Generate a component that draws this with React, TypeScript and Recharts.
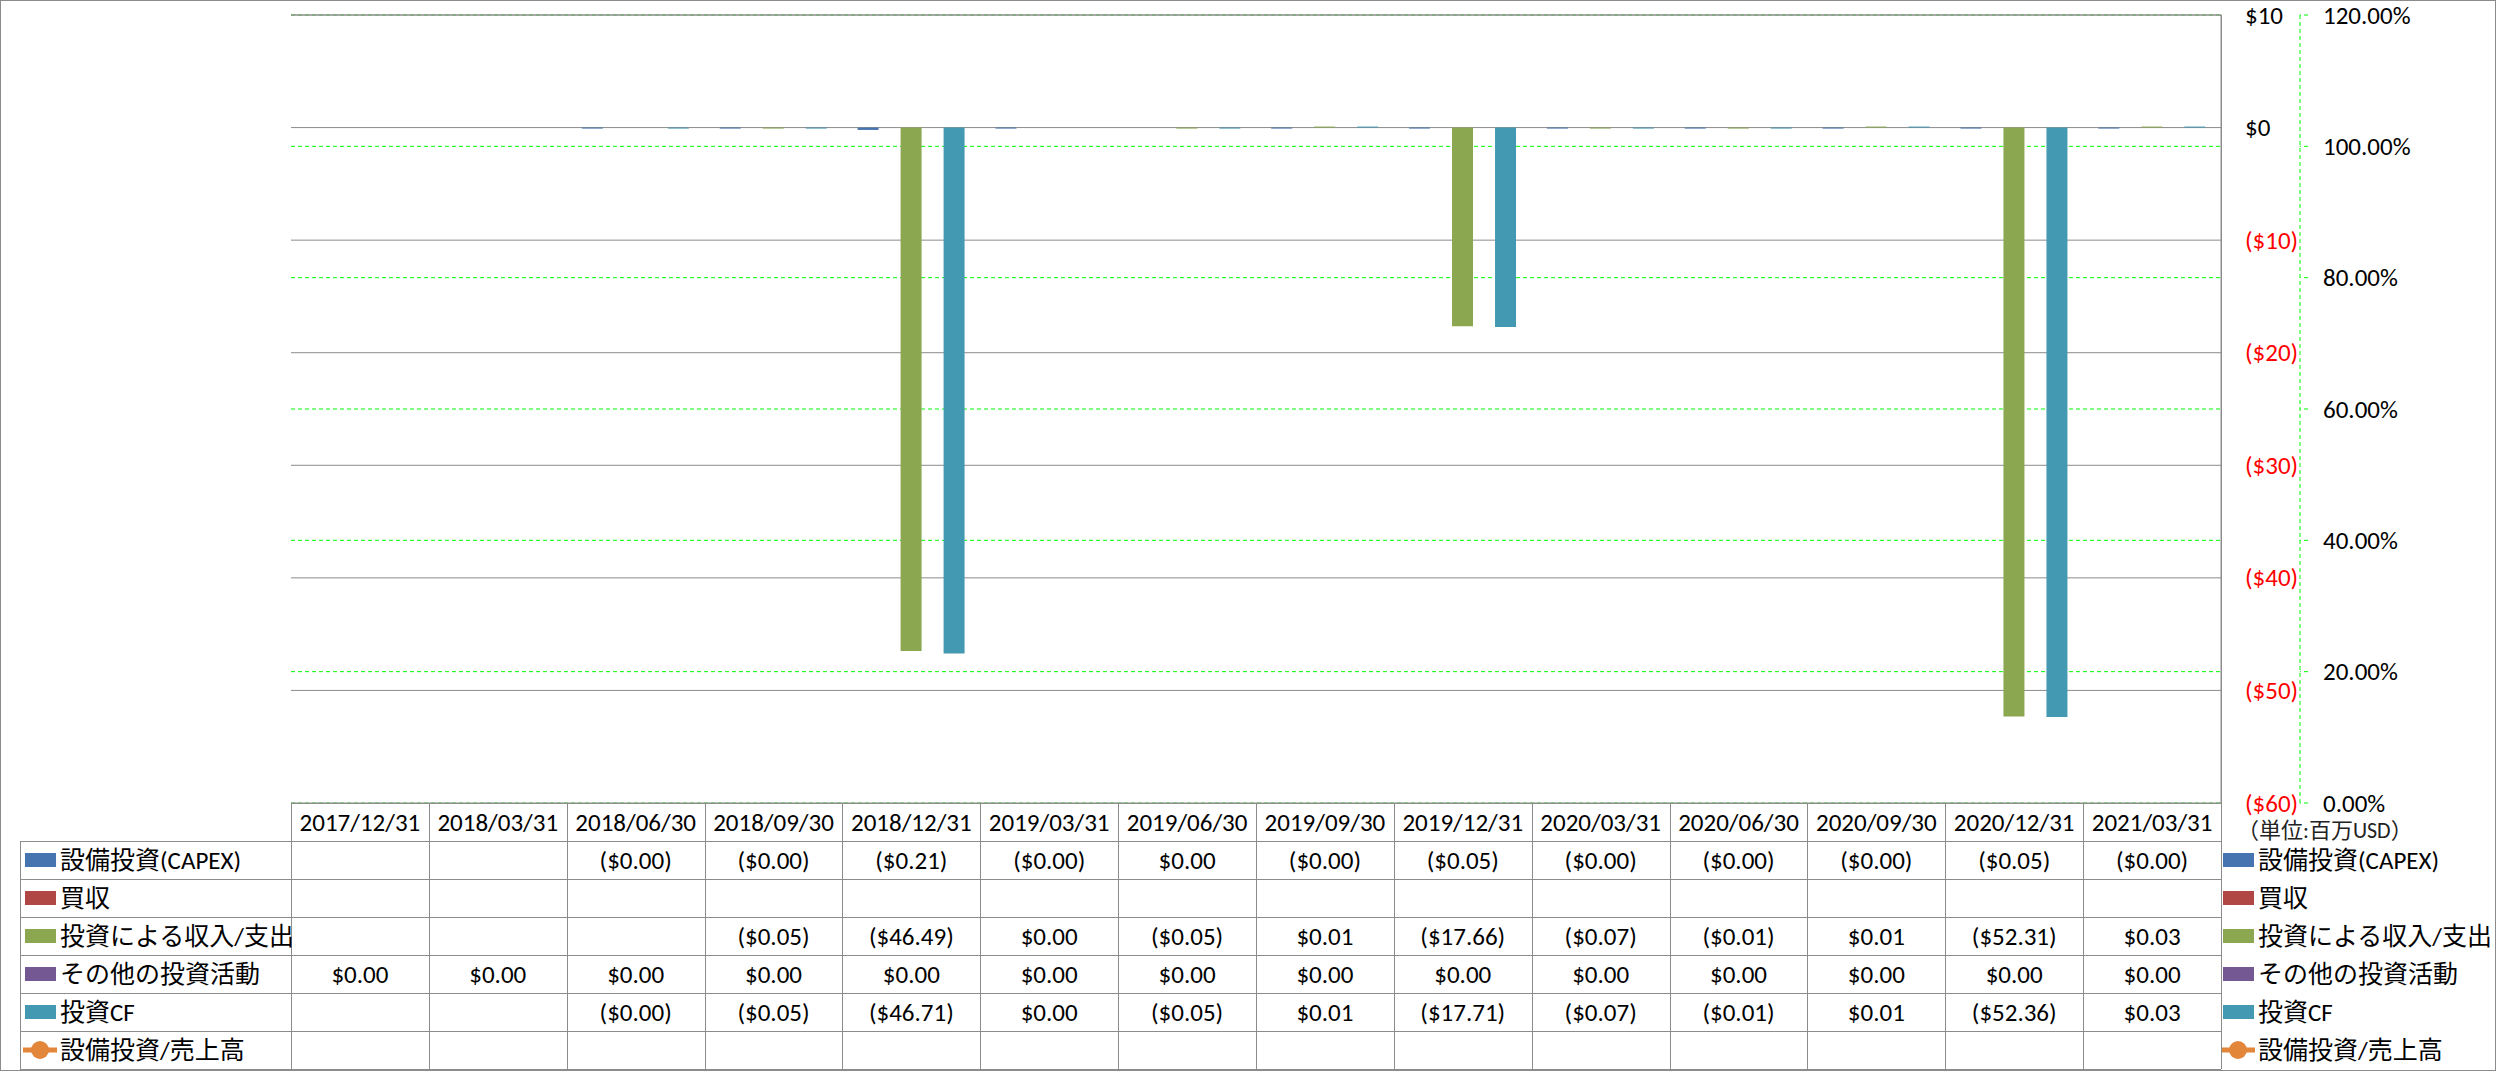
import { ComposedChart, Bar, Line, XAxis, YAxis, CartesianGrid } from "recharts";

// quarters (table header / category axis)
const dates = [
  "2017/12/31", "2018/03/31", "2018/06/30", "2018/09/30", "2018/12/31", "2019/03/31", "2019/06/30",
  "2019/09/30", "2019/12/31", "2020/03/31", "2020/06/30", "2020/09/30", "2020/12/31", "2021/03/31",
];

// values in million USD, null = empty cell
const capex = [null, null, -0.004, -0.004, -0.21, -0.003, 0, -0.003, -0.05, -0.003, -0.003, -0.003, -0.05, -0.003];
const acquisitions = [null, null, null, null, null, null, null, null, null, null, null, null, null, null];
const investIncome = [null, null, null, -0.05, -46.49, 0, -0.05, 0.01, -17.66, -0.07, -0.01, 0.01, -52.31, 0.03];
const otherInvest = [0, 0, 0, 0, 0, 0, 0, 0, 0, 0, 0, 0, 0, 0];
const investCF = [null, null, -0.004, -0.05, -46.71, 0, -0.05, 0.01, -17.71, -0.07, -0.01, 0.01, -52.36, 0.03];
const capexRatio = [null, null, null, null, null, null, null, null, null, null, null, null, null, null];

const usdTicks = [10, 0, -10, -20, -30, -40, -50, -60];
const pctTicks = [0, 0.2, 0.4, 0.6, 0.8, 1, 1.2];

const series = [
  { key: "capex", name: "設備投資(CAPEX)", color: "#4674B0", values: capex },
  { key: "acq", name: "買収", color: "#B04744", values: acquisitions },
  { key: "income", name: "投資による収入/支出", color: "#8BA74F", values: investIncome },
  { key: "other", name: "その他の投資活動", color: "#735894", values: otherInvest },
  { key: "cf", name: "投資CF", color: "#4499B2", values: investCF },
];
const ratioSeries = { key: "ratio", name: "設備投資/売上高", color: "#E2863A", values: capexRatio };

const rows = dates.map((d, i) => {
  const r: any = { date: d };
  series.forEach((s) => (r[s.key] = s.values[i]));
  r[ratioSeries.key] = ratioSeries.values[i];
  return r;
});

const W = 2496;
const H = 1071;
const PLOT_L = 291;
const PLOT_T = 15;
const PLOT_R = 2221;
const PLOT_B = 803;
const BAND = (PLOT_R - PLOT_L) / dates.length;
const HEADER_H = 38;
const ROW_H = 38;
const TABLE_L = 20;
const GRID = "#8c8c8c";
const FONT = "Carlito, Calibri, Lato, 'Noto Sans CJK JP', sans-serif";
const FS = 25;

const fmt = (v: number | null) => {
  if (v == null) return "";
  return v < 0 ? `($${Math.abs(v).toFixed(2)})` : `$${v.toFixed(2)}`;
};

const legendItems = [...series.map((s) => ({ ...s, line: false })), { ...ratioSeries, line: true }];

const LegendKey = ({ x, cy, color, line }: any) =>
  line ? (
    <g>
      <line x1={x - 2} x2={x + 32} y1={cy} y2={cy} stroke={color} strokeWidth={5} />
      <circle cx={x + 15} cy={cy} r={9} fill={color} />
    </g>
  ) : (
    <rect x={x} y={cy - 7} width={31} height={14} fill={color} />
  );

const TableFrame = ({ top }: { top: number }) => {
  const bottom = top + HEADER_H + ROW_H * legendItems.length;
  const lines = [];
  for (let r = 0; r <= legendItems.length; r++) {
    const yy = Math.round(top + HEADER_H + ROW_H * r) + 0.5;
    lines.push(<line key={"h" + r} x1={TABLE_L} x2={PLOT_R} y1={yy} y2={yy} stroke={GRID} />);
  }
  return (
    <g>
      {/* plot frame: top gridline and value axis line */}
      <line x1={PLOT_L} x2={PLOT_R + 0.5} y1={PLOT_T} y2={PLOT_T} stroke={GRID} strokeWidth={1.2} />
      <line x1={PLOT_R + 0.5} x2={PLOT_R + 0.5} y1={PLOT_T} y2={bottom} stroke={GRID} />
      <line x1={PLOT_L} x2={PLOT_R} y1={top + 0.5} y2={top + 0.5} stroke={GRID} />
      {lines}
      <line x1={TABLE_L + 0.5} x2={TABLE_L + 0.5} y1={top + HEADER_H} y2={bottom} stroke={GRID} />
      <line x1={PLOT_L + 0.5} x2={PLOT_L + 0.5} y1={top} y2={bottom} stroke={GRID} />
      {legendItems.map((s, r) => {
        const cy = top + HEADER_H + ROW_H * r + ROW_H / 2;
        return (
          <g key={s.key}>
            <LegendKey x={25} cy={cy} color={s.color} line={s.line} />
            <text x={60} y={cy} dominantBaseline="central" fontSize={FS} fontFamily={FONT} fill="#000">
              {s.name}
            </text>
            <LegendKey x={PLOT_R + 2} cy={cy} color={s.color} line={s.line} />
            <text x={PLOT_R + 37} y={cy} dominantBaseline="central" fontSize={FS} fontFamily={FONT} fill="#000">
              {s.name}
            </text>
          </g>
        );
      })}
      <text x={PLOT_R + 16} y={top + 27} dominantBaseline="central" fontSize={22} fontFamily={FONT} fill="#222">
        （単位:百万USD）
      </text>
    </g>
  );
};

const TableColumn = (props: any) => {
  const { x, y, payload, index } = props;
  const top = y;
  const right = Math.round(x + BAND / 2) + 0.5;
  const bottom = top + HEADER_H + ROW_H * legendItems.length;
  return (
    <g>
      {index === 0 && <TableFrame top={top} />}
      <line x1={right} x2={right} y1={top} y2={bottom} stroke={GRID} />
      <text x={x} y={top + HEADER_H / 2} textAnchor="middle" dominantBaseline="central" fontSize={FS} fontFamily={FONT} fill="#000">
        {payload.value}
      </text>
      {legendItems.map((s, r) => (
        <text
          key={s.key}
          x={x}
          y={top + HEADER_H + ROW_H * r + ROW_H / 2}
          textAnchor="middle"
          dominantBaseline="central"
          fontSize={FS}
          fontFamily={FONT}
          fill="#000"
        >
          {fmt(s.values[index])}
        </text>
      ))}
    </g>
  );
};

const UsdTick = (props: any) => {
  const { x, y, payload } = props;
  const v = payload.value;
  const label = v < 0 ? `($${Math.abs(v)})` : `$${v}`;
  return (
    <text x={x} y={y} dominantBaseline="central" textAnchor="start" fontSize={FS} fontFamily={FONT} fill={v < 0 ? "#FF0000" : "#000"}>
      {label}
    </text>
  );
};

const PctTick = (props: any) => {
  const { x, y, payload } = props;
  return (
    <text x={x} y={y} dominantBaseline="central" textAnchor="start" fontSize={FS} fontFamily={FONT} fill="#000">
      {`${(payload.value * 100).toFixed(2)}%`}
    </text>
  );
};

const minSize = (v: any) => (v == null || v === 0 ? 0 : 1);

export default function App() {
  return (
    <div style={{ position: "absolute", left: 0, top: 0, width: W, height: H, background: "#fff" }}>
      <ComposedChart
        width={W}
        height={H}
        data={rows}
        margin={{ top: PLOT_T, right: W - PLOT_R - 79 - 120, bottom: 0, left: PLOT_L }}
        barCategoryGap="11%"
        barGap={0.5}
      >
        <CartesianGrid yAxisId="axis2" vertical={false} stroke="#00FF00" strokeDasharray="4 3" />
        <CartesianGrid yAxisId="axis1" vertical={false} stroke={GRID} />
        <XAxis
          dataKey="date"
          height={H - PLOT_B}
          interval={0}
          axisLine={false}
          tickLine={false}
          tickSize={0}
          tickMargin={0}
          tick={<TableColumn />}
        />
        <YAxis
          yAxisId="axis1"
          orientation="right"
          width={79}
          domain={[-60, 10]}
          allowDataOverflow
          ticks={usdTicks}
          axisLine={{ stroke: GRID }}
          tickLine={false}
          tickSize={6}
          tickMargin={18}
          tick={<UsdTick />}
        />
        <YAxis
          yAxisId="axis2"
          orientation="right"
          width={120}
          type="number"
          domain={[0, 1.2]}
          allowDataOverflow
          ticks={pctTicks}
          axisLine={{ stroke: "#00FF00", strokeDasharray: "4 3" }}
          tickLine={{ stroke: "#00FF00", strokeDasharray: "4 3" }}
          tickSize={8}
          tickMargin={15}
          tick={<PctTick />}
        />
        {series.map((s) => (
          <Bar
            key={s.key}
            yAxisId="axis1"
            dataKey={s.key}
            name={s.name}
            fill={s.color}
            minPointSize={minSize}
            isAnimationActive={false}
          />
        ))}
        <Line
          yAxisId="axis2"
          dataKey={ratioSeries.key}
          name={ratioSeries.name}
          stroke={ratioSeries.color}
          strokeWidth={5}
          dot={{ r: 9, fill: ratioSeries.color, stroke: ratioSeries.color }}
          isAnimationActive={false}
        />
      </ComposedChart>
      <div
        style={{
          position: "absolute",
          left: 0,
          top: 0,
          width: W,
          height: H,
          boxSizing: "border-box",
          border: "1px solid #8c8c8c",
          pointerEvents: "none",
        }}
      />
    </div>
  );
}
